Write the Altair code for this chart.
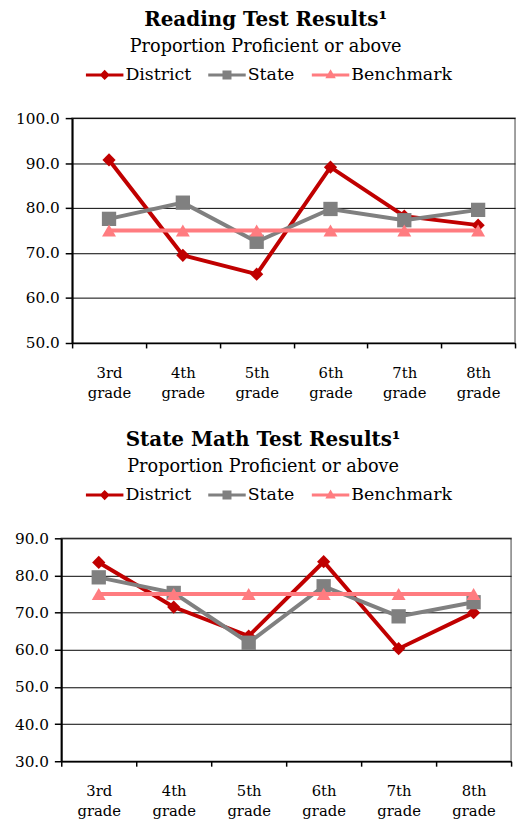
import altair as alt
import pandas as pd

grades = ["3rd grade", "4th grade", "5th grade", "6th grade", "7th grade", "8th grade"]
series_names = ["District", "State", "Benchmark"]
series_colors = ["#C00000", "#808080", "#FF7C80"]
series_shapes = ["diamond", "square", "triangle-up"]
series_sizes = [180, 210, 200]

reading_district = [90.7, 69.5, 65.3, 89.1, 78.2, 76.2]
reading_state = [77.6, 81.2, 72.5, 79.8, 77.3, 79.6]
reading_benchmark = [75.0, 75.0, 75.0, 75.0, 75.0, 75.0]

math_district = [83.5, 71.5, 63.7, 83.7, 60.3, 70.0]
math_state = [79.5, 75.3, 61.9, 77.1, 69.0, 72.8]
math_benchmark = [75.0, 75.0, 75.0, 75.0, 75.0, 75.0]

reading_ticks = [50, 60, 70, 80, 90, 100]
math_ticks = [30, 40, 50, 60, 70, 80, 90]

# legend symbols: a line segment with the series marker in its middle
legend_paths = [
    "M-1,-0.08L1,-0.08L1,0.08L-1,0.08Z M0,-0.27L0.27,0L0,0.27L-0.27,0Z",
    "M-1,-0.08L1,-0.08L1,0.08L-1,0.08Z M-0.24,-0.24L0.24,-0.24L0.24,0.24L-0.24,0.24Z",
    "M-1,-0.08L1,-0.08L1,0.08L-1,0.08Z M0,-0.3L0.28,0.18L-0.28,0.18Z",
]

FONT = "DejaVu Serif"


def make_panel(title, district, state, bench, ticks, width, height, legend_x, legend_y):
    rows = []
    for name, vals in zip(series_names, [district, state, bench]):
        for g, v in zip(grades, vals):
            rows.append({"grade": g, "series": name, "value": v})
    df = pd.DataFrame(rows)
    base = alt.Chart(df)

    x = alt.X(
        "grade:N",
        sort=grades,
        scale=alt.Scale(type="band", paddingInner=0, paddingOuter=0),
        axis=alt.Axis(
            title=None,
            labelAngle=0,
            labelExpr="split(datum.label, ' ')",
            tickBand="extent",
            tickSize=5,
            labelPadding=18,
            labelLineHeight=20,
            labelFontSize=15,
            grid=False,
            domainColor="black",
            domainWidth=1.5,
            tickColor="black",
            tickWidth=1.5,
            labelBaseline="top",
        ),
    )
    y = alt.Y(
        "value:Q",
        scale=alt.Scale(domain=[ticks[0], ticks[-1]], nice=False, zero=False),
        axis=alt.Axis(
            title=None,
            values=ticks,
            format=".1f",
            tickSize=7,
            labelPadding=6,
            labelFontSize=15.5,
            grid=True,
            gridColor="black",
            gridWidth=1,
            domainColor="black",
            domainWidth=2,
            tickColor="black",
            tickWidth=1.5,
        ),
    )

    layers = []
    for name, color, shape, size in zip(series_names, series_colors, series_shapes, series_sizes):
        sub = base.transform_filter(alt.datum.series == name)
        layers.append(sub.mark_line(color=color, strokeWidth=4).encode(x=x, y=y))
        layers.append(
            sub.mark_point(filled=True, shape=shape, size=size, color=color, opacity=1, strokeWidth=0).encode(x=x, y=y)
        )

    leg = alt.Legend(
        title=None,
        orient="none",
        direction="horizontal",
        legendX=legend_x,
        legendY=legend_y,
        symbolSize=1444,
        symbolStrokeWidth=0,
        symbolOpacity=1,
        labelFont=FONT,
        labelFontSize=17.6,
        labelColor="black",
        labelOffset=2,
        columnPadding=17,
    )
    legend_layer = base.transform_filter("false").mark_point(filled=True, opacity=1).encode(
        color=alt.Color("series:N", scale=alt.Scale(domain=series_names, range=series_colors), legend=leg),
        shape=alt.Shape("series:N", scale=alt.Scale(domain=series_names, range=legend_paths), legend=leg),
    )
    layers.append(legend_layer)

    return alt.layer(*layers).properties(
        width=width,
        height=height,
        title=alt.TitleParams(
            text=title,
            subtitle="Proportion Proficient or above",
            font=FONT,
            fontSize=20.2,
            fontWeight="bold",
            color="black",
            subtitleFont=FONT,
            subtitleFontSize=17.9,
            subtitleColor="black",
            subtitlePadding=8,
            anchor="middle",
            frame="bounds",
            offset=0,
        ),
    )


top_panel = make_panel("Reading Test Results\u00b9", reading_district, reading_state, reading_benchmark,
                       reading_ticks, 449, 228, 14, -63)
bottom_panel = make_panel("State Math Test Results\u00b9", math_district, math_state, math_benchmark,
                          math_ticks, 456, 226, 25, -63)

# an empty 1px cell that pushes the upper panel a little to the right of the lower one
spacer = alt.Chart(pd.DataFrame({"v": [0]})).mark_point(opacity=0).properties(
    width=1, height=1, view=alt.ViewBackground(stroke="transparent")
)
top_row = alt.hconcat(spacer, top_panel, spacing=10, bounds="flush").resolve_scale(
    color="independent", shape="independent"
)

chart = alt.vconcat(top_row, bottom_panel, spacing=29).resolve_scale(
    color="independent", shape="independent"
).properties(
    padding={"left": 5, "top": -4, "right": 0, "bottom": 0}
).configure_view(
    stroke="#808080", strokeWidth=1.5
).configure_axis(
    labelFont=FONT, labelColor="black"
)

chart.save("out.html", embed_options={"renderer": "svg", "actions": False})
